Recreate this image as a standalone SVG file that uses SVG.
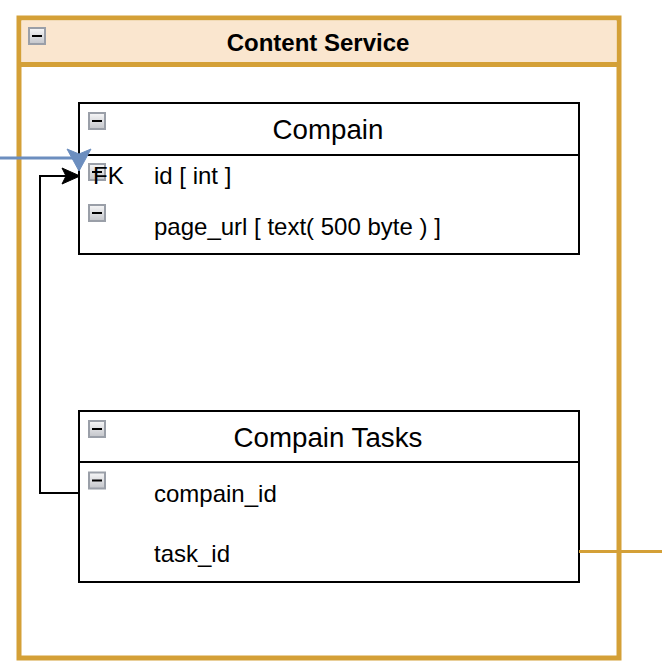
<svg xmlns="http://www.w3.org/2000/svg" width="662" height="672" viewBox="0 0 662 672">
  <style>
    text { font-family: "Liberation Sans", Arial, Helvetica, sans-serif; fill: #000; }
    .title { font-size: 24px; font-weight: bold; text-anchor: middle; }
    .head { font-size: 27.7px; text-anchor: middle; }
    .field { font-size: 24px; }
    .box { fill: #fff; stroke: #000; stroke-width: 2; }
    .sep { stroke: #000; stroke-width: 2; }
  </style>
  <defs>
    <linearGradient id="ig" x1="0" y1="0" x2="0" y2="1">
      <stop offset="0" stop-color="#f7f7f8"/>
      <stop offset="1" stop-color="#c3c5ca"/>
    </linearGradient>
    <g id="icon">
      <rect x="-8" y="-8" width="16" height="16" fill="url(#ig)" stroke="#9a9fa8" stroke-width="2"/>
      <rect x="-5" y="-1" width="10" height="2" fill="#000"/>
    </g>
  </defs>

  <g id="content-service">
    <rect x="19" y="18" width="600" height="640" fill="#fff" stroke="#d4a037" stroke-width="5"/>
    <rect x="21.5" y="20.5" width="595" height="44" fill="#fae6cf"/>
    <line x1="19" y1="64.5" x2="619" y2="64.5" stroke="#d4a037" stroke-width="5"/>
    <use href="#icon" x="37" y="36"/>
    <text class="title" x="318" y="51">Content Service</text>
  </g>

  <g id="compain">
    <rect class="box" x="79" y="103" width="500" height="151"/>
    <line class="sep" x1="79" y1="155" x2="579" y2="155"/>
    <use href="#icon" x="97" y="121"/>
    <text class="head" x="328" y="138.5">Compain</text>
    <use href="#icon" x="97" y="172"/>
    <text class="field" x="93" y="184">FK</text>
    <text class="field" x="154" y="184">id [ int ]</text>
    <use href="#icon" x="97" y="213"/>
    <text class="field" x="154" y="235">page_url [ text( 500 byte ) ]</text>
  </g>

  <g id="compain-tasks">
    <rect class="box" x="79" y="411" width="500" height="171"/>
    <line class="sep" x1="79" y1="462" x2="579" y2="462"/>
    <use href="#icon" x="97" y="429"/>
    <text class="head" x="328" y="446.5">Compain Tasks</text>
    <use href="#icon" x="97" y="480.5"/>
    <text class="field" x="154" y="501.5">compain_id</text>
    <text class="field" x="154" y="561.5">task_id</text>
  </g>

  <g id="connectors">
    <path d="M79,493 H40 V176 H68" fill="none" stroke="#000" stroke-width="2"/>
    <polygon points="80,176 62,168 66,176 62,184" fill="#000" stroke="#000" stroke-width="1"/>
    <path d="M0,158 H79 V162" fill="none" stroke="#6c8ebf" stroke-width="3"/>
    <polygon points="79,171 67,149 79,154 91,149" fill="#6c8ebf" stroke="#6c8ebf" stroke-width="1"/>
    <line x1="579" y1="551.5" x2="662" y2="551.5" stroke="#d4a037" stroke-width="3"/>
  </g>
</svg>
